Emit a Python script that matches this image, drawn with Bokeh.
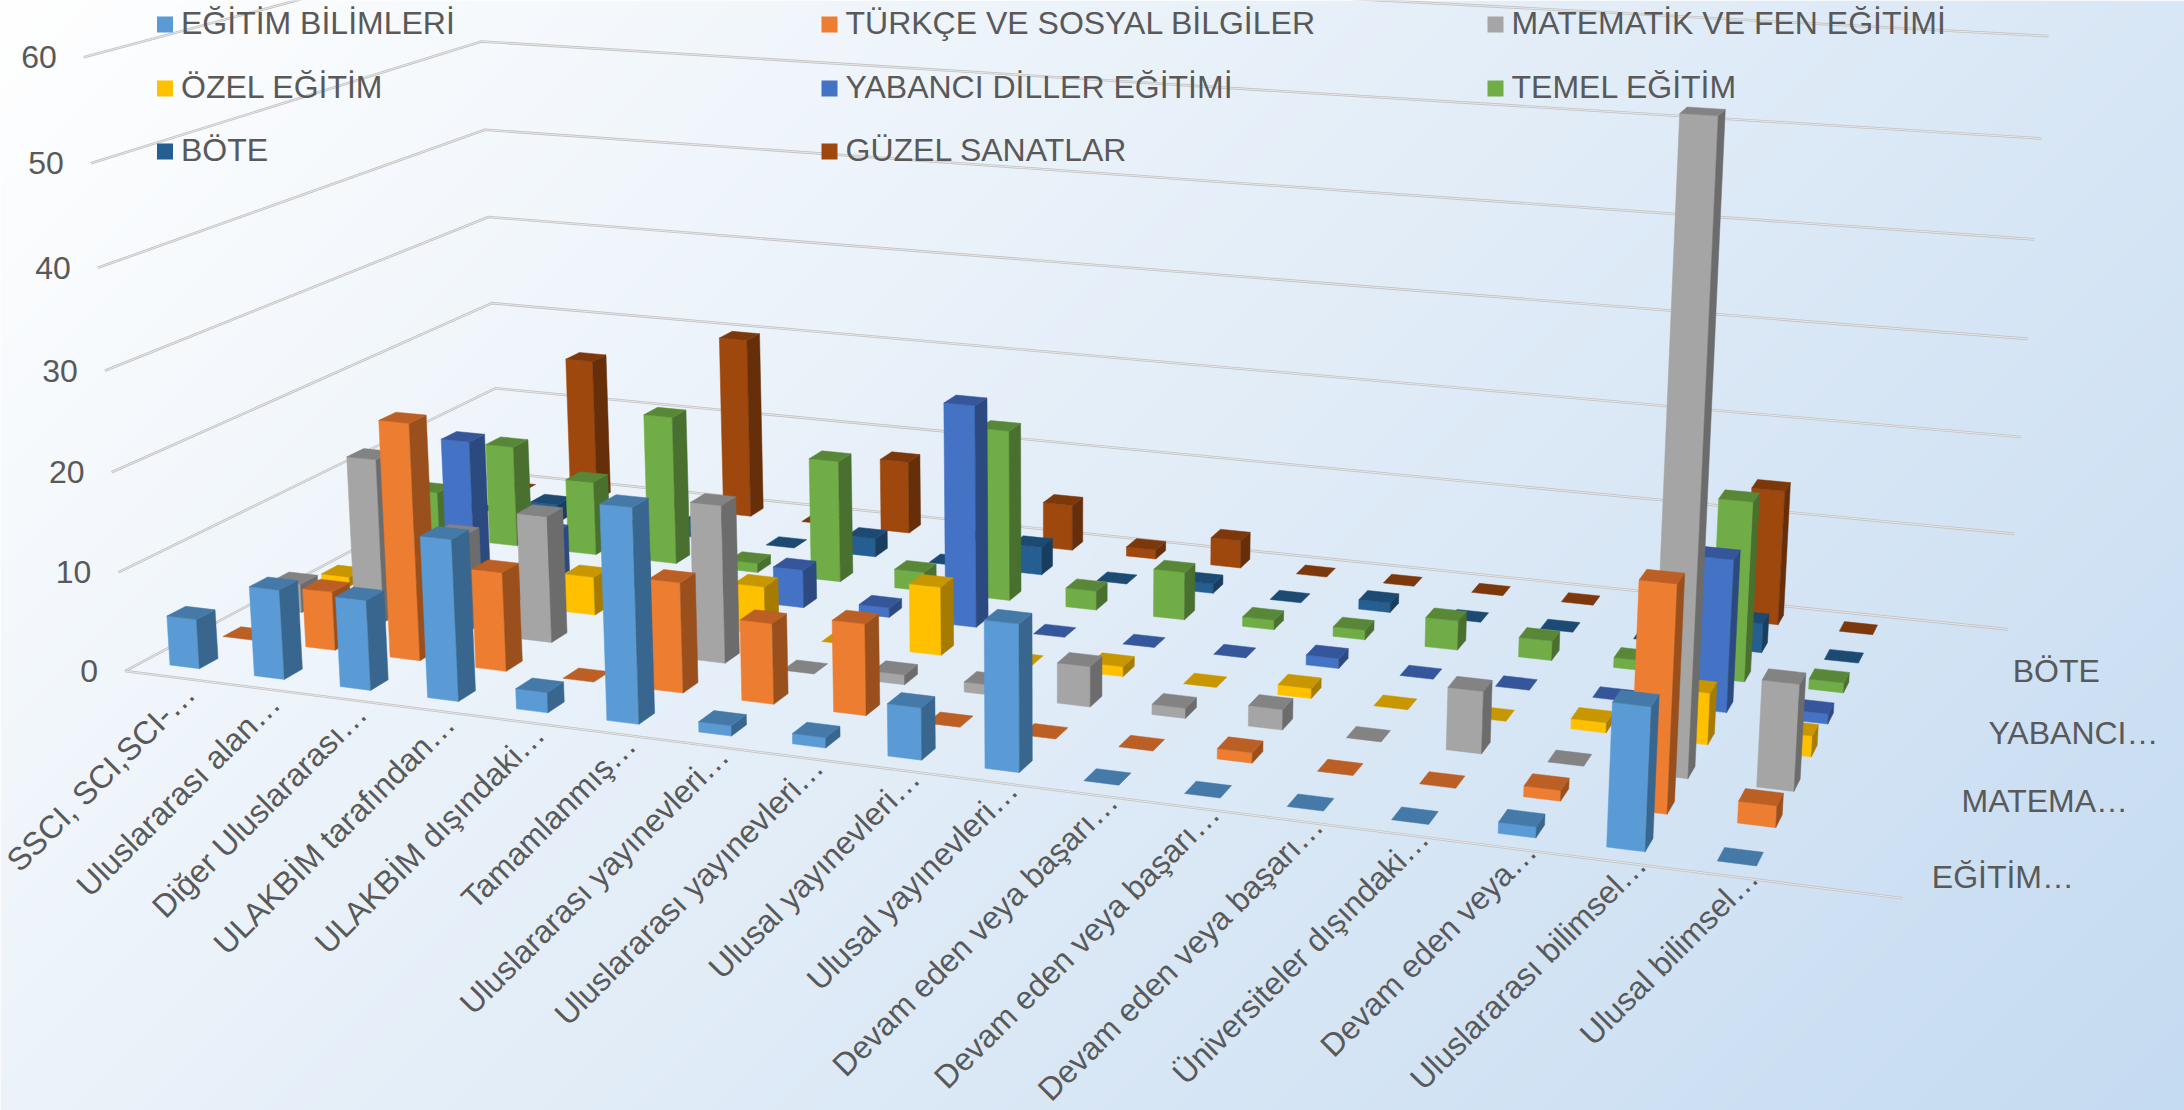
import numpy as np
from bokeh.plotting import figure, ColumnDataSource
from bokeh.models import Range1d
from bokeh.core.properties import value
from bokeh.embed import file_html
from bokeh.resources import INLINE

categories = ["SSCI, SCI,SCI-…", "Uluslararası alan…", "Diğer Uluslararası…", "ULAKBİM tarafından…",
              "ULAKBİM dışındaki…", "Tamamlanmış…", "Uluslararası yayınevleri…", "Uluslararası yayınevleri…",
              "Ulusal yayınevleri…", "Ulusal yayınevleri…", "Devam eden veya başarı…", "Devam eden veya başarı…",
              "Devam eden veya başarı…", "Üniversiteler dışındaki…", "Devam eden veya…",
              "Uluslararası bilimsel…", "Ulusal bilimsel…"]
series_names = ["EĞİTİM BİLİMLERİ", "TÜRKÇE VE SOSYAL BİLGİLER", "MATEMATİK VE FEN EĞİTİMİ", "ÖZEL EĞİTİM",
                "YABANCI DİLLER EĞİTİMİ", "TEMEL EĞİTİM", "BÖTE", "GÜZEL SANATLAR"]
depth_labels = {0: "EĞİTİM…", 2: "MATEMA…", 4: "YABANCI…", 6: "BÖTE"}
value_ticks = [0, 10, 20, 30, 40, 50, 60]

egitim   = [5, 9, 9, 16, 2, 21, 1, 1, 5, 14, 0, 0, 0, 0, 1, 13, 0]
turkce   = [0, 6, 24, 10, 0, 11, 8, 9, 0, 0, 0, 1, 0, 0, 1, 21, 2]
matematik = [3, 17, 10, 13, 1, 16, 0, 1, 1, 4, 1, 2, 0, 6, 0, 60, 10]
ozel     = [1, 0, 3, 4, 0, 5, 0, 7, 0, 1, 0, 1, 0, 0, 1, 5, 2]
yabanci  = [0, 14, 5, 3, 2, 4, 1, 23, 0, 0, 0, 1, 0, 0, 0, 15, 1]
temel    = [5, 11, 8, 16, 1, 13, 2, 18, 2, 5, 1, 1, 3, 2, 1, 18, 1]
bote     = [0, 2, 0, 2, 0, 2, 0, 3, 0, 1, 0, 1, 0, 0, 0, 3, 0]
guzel    = [0, 16, 0, 20, 0, 8, 0, 5, 1, 3, 0, 0, 0, 0, 0, 14, 0]
series_values = [egitim, turkce, matematik, ozel, yabanci, temel, bote, guzel]

face_colors = ["#5B9BD5", "#ED7D31", "#A5A5A5", "#FFC000", "#4472C4", "#70AD47", "#255E91", "#9E480E"]
top_colors  = ["#4579A8", "#BB5F25", "#838383", "#C89700", "#35569B", "#588837", "#1C4A72", "#7C380B"]
side_colors = ["#39668F", "#9A501D", "#6C6C6C", "#A67C00", "#2C4A80", "#49702E", "#183D5E", "#672F09"]

N_CELLS_X = 18
N_CELLS_Y = 8
BAR = 0.35

# camera calibration: (cat, row, value) -> page pixel of the plot box corners
cal_world = np.array([(0,0,0),(0,0,20),(0,0,40),(0,0,60),(0,8,0),(0,8,20),(0,8,50),
                      (18,8,0),(18,8,20),(18,8,40),(18,8,60),(18,0,0)], float)
cal_page = np.array([(125,671),(111,472),(97,267),(83,57),(498,471),(490.6,303),(482,41),
                     (2007,629.5),(2021,437),(2035,239),(2047,35),(1902,897)], float)

def solve_camera():
    rows = []
    for (u, v, w), (x, y) in zip(cal_world, cal_page):
        X = [u / 10, v / 10, w / 100, 1]
        x, y = x / 1000, y / 1000
        rows.append(X + [0, 0, 0, 0] + [-x * c for c in X])
        rows.append([0, 0, 0, 0] + X + [-y * c for c in X])
    return np.linalg.svd(np.array(rows))[2][-1].reshape(3, 4)

CAM = solve_camera()

def project(u, v, w):
    h = CAM @ np.array([u / 10, v / 10, w / 100, 1.0])
    return h[0] / h[2] * 1000, h[1] / h[2] * 1000

# background
W, H = 2184, 1110
gx, gy = np.meshgrid(np.linspace(0, W, 546), np.linspace(0, H, 278))
t = (gx + gy) / (W + H)
r = 255 + (197 - 255) * t
g = 255 + (219 - 255) * t
b = 255 + (241 - 255) * t
img = (255 << 24) | (b.astype(np.uint32) << 16) | (g.astype(np.uint32) << 8) | r.astype(np.uint32)

p = figure(width=W, height=H, x_range=Range1d(0, W), y_range=Range1d(H, 0),
           output_backend="svg", toolbar_location=None, x_axis_type=None, y_axis_type=None,
           min_border=0, outline_line_color=None)
p.grid.visible = False
p.image_rgba(image=[img.astype(np.uint32)], x=0, y=0, dw=W, dh=H)

# walls
def wall(points, outer="#C2C2C2", inner="#F0F0F0", w1=2.6, w2=0.8):
    xs, ys = zip(*[project(*q) for q in points])
    p.line(list(xs), list(ys), line_color=outer, line_width=w1)
    p.line(list(xs), list(ys), line_color=inner, line_width=w2)

for tick in value_ticks:
    wall([(0, 0, tick), (0, N_CELLS_Y, tick), (N_CELLS_X, N_CELLS_Y, tick)])
wall([(0, 0, 0), (N_CELLS_X, 0, 0)])

# bars, far rows first and left categories first
xs, ys, fills = [], [], []
def face(pts, c):
    q = [project(*a) for a in pts]
    xs.append([a[0] for a in q]); ys.append([a[1] for a in q]); fills.append(c)

gap = (1 - BAR) / 2
for j in range(len(series_values) - 1, -1, -1):
    for i, val in enumerate(series_values[j]):
        u0, u1 = i + gap, i + 1 - gap
        v0, v1 = j + gap, j + 1 - gap
        if val > 0:
            face([(u0, v0, 0), (u1, v0, 0), (u1, v0, val), (u0, v0, val)], face_colors[j])
            face([(u1, v0, 0), (u1, v1, 0), (u1, v1, val), (u1, v0, val)], side_colors[j])
        face([(u0, v0, val), (u1, v0, val), (u1, v1, val), (u0, v1, val)], top_colors[j])
src = ColumnDataSource(dict(xs=xs, ys=ys, fill=fills))
p.patches("xs", "ys", source=src, fill_color="fill", line_color="fill", line_width=0.5)

FONT = dict(text_font=value("Liberation Sans"), text_font_size=value("32px"), text_color="#595959")

# value axis labels
vx, vy = zip(*[project(0, 0, t_) for t_ in value_ticks])
p.text([a - 27 for a in vx], list(vy), text=[str(t_) for t_ in value_ticks], text_align="right",
       text_baseline="middle", **FONT)

# category labels
cp = [project(i + 0.5, 0, 0) for i in range(len(categories))]
p.text([a[0] + 22.5 for a in cp], [a[1] + 12 - i for i, a in enumerate(cp)], text=categories,
       angle=np.radians(45), text_align="right", text_baseline="middle", **FONT)

# depth labels
dk = sorted(depth_labels)
dp = [project(N_CELLS_X, k + 0.5, 0) for k in dk]
p.text([a[0] + 21.5 for a in dp], [a[1] - 1 for a in dp], text=[depth_labels[k] for k in dk],
       text_align="left", text_baseline="middle", **FONT)

# legend
leg_col = [156.5, 821, 1487]
leg_row = [24, 88, 151]
lx = [leg_col[k % 3] for k in range(8)]
ly = [leg_row[k // 3] for k in range(8)]
p.scatter([a + 8 for a in lx], ly, marker="square", size=16, fill_color=face_colors, line_color=None)
p.text([a + 24 for a in lx], [a - 2 for a in ly], text=series_names, text_align="left",
       text_baseline="middle", **FONT)

open("out.html", "w").write(file_html(p, INLINE))
